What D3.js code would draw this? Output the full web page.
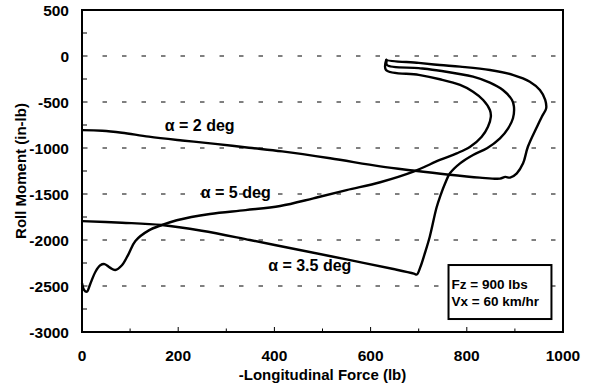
<!DOCTYPE html>
<html>
<head>
<meta charset="utf-8">
<script src="https://cdn.jsdelivr.net/npm/d3@7"></script>
<style>
  body { margin: 0; background: #fff; }
  svg text { font-family: "Liberation Sans", Arial, Helvetica, sans-serif; font-weight: bold; fill: #000; }
</style>
</head>
<body>
<svg id="vis" width="596" height="387"></svg>
<script>
// -Longitudinal Force (lb), Roll Moment (in-lb)
const alpha2 = [[635,-35],[634,-43],[700,-75],[744,-98],[786,-116],[848,-152],[897,-207],[931,-279],[952,-370],[963,-478],[965,-569],[956,-660],[946,-768],[927,-986],[917,-1167],[904,-1275],[890,-1322],[880,-1314],[869,-1333],[827,-1322],[759,-1288],[688,-1245],[620,-1200],[516,-1112],[416,-1037],[347,-997],[277,-955],[208,-918],[139,-877],[83,-834],[42,-812],[0,-806]];
const alpha35 = [[634,-40],[634,-98],[700,-132],[744,-160],[813,-225],[848,-290],[875,-370],[894,-478],[898,-551],[896,-677],[886,-786],[869,-895],[842,-1003],[813,-1076],[786,-1167],[765,-1275],[755,-1384],[745,-1520],[737,-1650],[723,-1964],[713,-2140],[703,-2300],[696,-2375],[690,-2365],[650,-2318],[550,-2211],[450,-2106],[349,-2000],[249,-1899],[166,-1837],[83,-1812],[0,-1795]];
const alpha5 = [[633,-35],[632,-152],[700,-205],[744,-253],[786,-315],[813,-388],[834,-478],[848,-587],[850,-660],[844,-768],[831,-877],[807,-986],[779,-1058],[744,-1130],[689,-1257],[620,-1372],[550,-1457],[481,-1547],[412,-1630],[340,-1675],[266,-1717],[197,-1785],[166,-1837],[139,-1895],[111,-2010],[97,-2150],[83,-2275],[69,-2326],[58,-2300],[47,-2262],[38,-2275],[28,-2345],[17,-2480],[10,-2562],[4,-2540],[0,-2471]];

const xTicks = [0, 200, 400, 600, 800, 1000];
const yTicks = [500, 0, -500, -1000, -1500, -2000, -2500, -3000];
const curveLabels = [
  {text: "\u03b1 = 2 deg", f: 172, m: -820},
  {text: "\u03b1 = 5 deg", f: 247, m: -1543},
  {text: "\u03b1 = 3.5 deg", f: 387, m: -2332}
];
const noteLines = ["Fz = 900 lbs", "Vx = 60 km/hr"];

const svg = d3.select("svg#vis");
const plotL = 82, plotR = 563, plotT = 10, plotB = 332;

const x = d3.scaleLinear().domain([0, 1000]).range([plotL, plotR]);
const y = d3.scaleLinear().domain([-3000, 500]).range([plotB, plotT]);

// dashed grid lines at the labelled moments
svg.append("g").selectAll("line")
  .data(yTicks.filter(d => d < 500 && d > -3000))
  .enter().append("line")
  .attr("x1", plotL + 1).attr("x2", plotR - 4)
  .attr("y1", d => y(d)).attr("y2", d => y(d))
  .attr("stroke", "#000").attr("stroke-width", 1)
  .attr("stroke-dasharray", "4.5,15");

// minor ticks, pointing into the plot
svg.append("g").selectAll("line")
  .data(d3.range(-2750, 500, 500))
  .enter().append("line")
  .attr("x1", plotL).attr("x2", plotL + 5)
  .attr("y1", d => y(d)).attr("y2", d => y(d))
  .attr("stroke", "#000").attr("stroke-width", 1);

svg.append("g").selectAll("line")
  .data(d3.range(100, 1000, 100))
  .enter().append("line")
  .attr("x1", d => x(d)).attr("x2", d => x(d))
  .attr("y1", plotB).attr("y2", d => plotB - (d % 200 === 0 ? 5 : 3.5))
  .attr("stroke", "#000").attr("stroke-width", 1);

// curves
const line = d3.line()
  .x(d => x(d[0]))
  .y(d => y(d[1]))
  .curve(d3.curveCatmullRom.alpha(0.5));

svg.append("g").selectAll("path")
  .data([alpha2, alpha35, alpha5])
  .enter().append("path")
  .attr("d", line)
  .attr("fill", "none")
  .attr("stroke", "#000")
  .attr("stroke-width", 2.4)
  .attr("stroke-linejoin", "round");

// frame
svg.append("rect")
  .attr("x", plotL).attr("y", plotT)
  .attr("width", plotR - plotL).attr("height", plotB - plotT)
  .attr("fill", "none").attr("stroke", "#000").attr("stroke-width", 2);

// tick labels
svg.append("g").selectAll("text")
  .data(yTicks)
  .enter().append("text")
  .attr("x", plotL - 13)
  .attr("y", d => y(d))
  .attr("dy", "0.36em")
  .attr("text-anchor", "end")
  .style("font-size", "15.5px")
  .text(d => d);

svg.append("g").selectAll("text")
  .data(xTicks)
  .enter().append("text")
  .attr("x", d => x(d))
  .attr("y", 360.5)
  .attr("text-anchor", "middle")
  .style("font-size", "15.5px")
  .text(d => d);

// axis titles
svg.append("text")
  .attr("x", (plotL + plotR) / 2)
  .attr("y", 380)
  .attr("text-anchor", "middle")
  .style("font-size", "15px")
  .text("-Longitudinal Force (lb)");

svg.append("text")
  .attr("transform", "translate(26," + ((plotT + plotB) / 2) + ") rotate(-90)")
  .attr("text-anchor", "middle")
  .style("font-size", "15px")
  .text("Roll Moment  (in-lb)");

// curve labels
svg.append("g").selectAll("text")
  .data(curveLabels)
  .enter().append("text")
  .attr("x", d => x(d.f))
  .attr("y", d => y(d.m))
  .style("font-size", "16px")
  .text(d => d.text);

// conditions box
const note = svg.append("g");
note.append("rect")
  .attr("x", x(762)).attr("y", y(-2272))
  .attr("width", x(976) - x(762)).attr("height", y(-2859) - y(-2272))
  .attr("fill", "#fff").attr("stroke", "#000").attr("stroke-width", 2);
note.selectAll("text")
  .data(noteLines)
  .enter().append("text")
  .attr("x", x(762) + 3)
  .attr("y", (d, i) => 288.5 + i * 17.2)
  .style("font-size", "13.5px")
  .text(d => d);
</script>
</body>
</html>
